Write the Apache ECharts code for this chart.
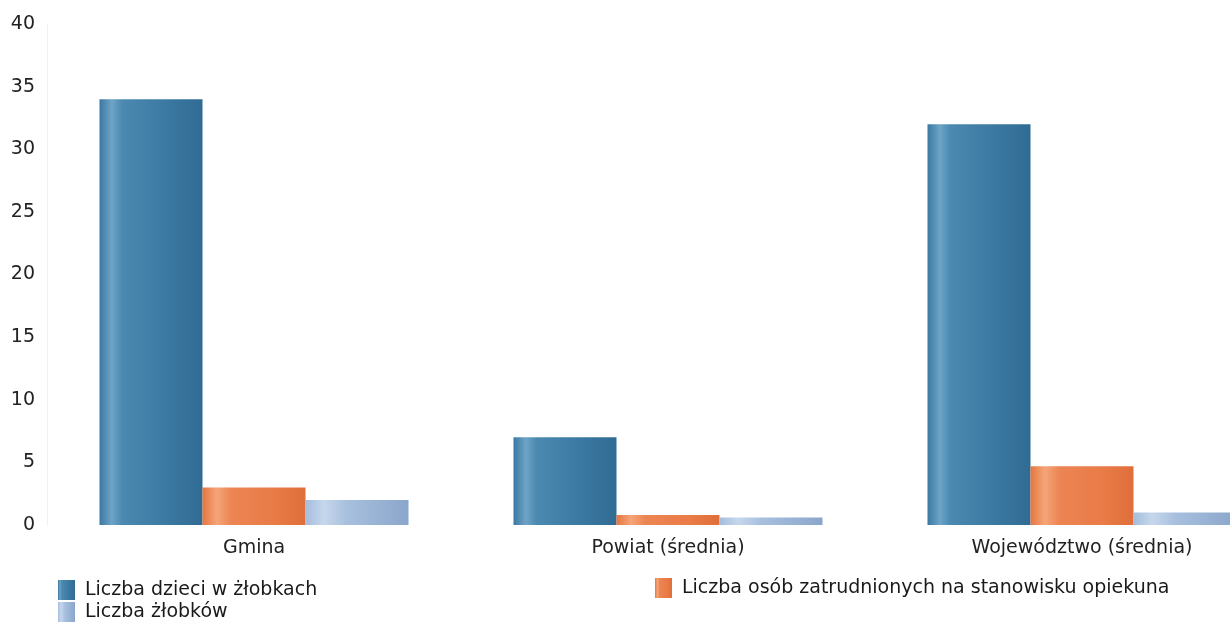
<!DOCTYPE html>
<html>
<head>
<meta charset="utf-8">
<script src="https://cdn.jsdelivr.net/npm/echarts@6/dist/echarts.min.js"></script>
<style>html,body{margin:0;padding:0;background:#fff;overflow:hidden;}#c{width:1290px;height:625px;}</style>
</head>
<body>
<div id="c"></div>
<script>
const categories = ['Gmina', 'Powiat (średnia)', 'Województwo (średnia)'];
const seriesNames = ['Liczba dzieci w żłobkach', 'Liczba osób zatrudnionych na stanowisku opiekuna', 'Liczba żłobków'];
const dzieci = [34, 7, 32];
const opiekunowie = [3, 0.8, 4.7];
const zlobki = [2, 0.6, 1];
const yTicks = [0, 5, 10, 15, 20, 25, 30, 35, 40];

function grad(stops) {
  return new echarts.graphic.LinearGradient(0, 0, 1, 0, stops.map(s => ({offset: s[0], color: s[1]})));
}
const blue = grad([[0, '#3a78a2'], [0.12, '#6ea4c6'], [0.22, '#4b89b1'], [0.6, '#3d7ba4'], [1, '#306b93']]);
const orange = grad([[0, '#e5763f'], [0.14, '#f5a57a'], [0.28, '#ec8553'], [0.7, '#e97b47'], [1, '#df6e3a']]);
const light = grad([[0, '#a4bddc'], [0.18, '#c6d7ec'], [0.4, '#a8c0de'], [1, '#8aa6cb']]);

const font = 'DejaVu Sans';
const chart = echarts.init(document.getElementById('c'));
chart.setOption({
  backgroundColor: '#fff',
  animation: false,
  textStyle: {fontFamily: font},
  grid: {left: 47, right: 1, top: 24, bottom: 100, containLabel: false},
  legend: [
    {data: [seriesNames[0], seriesNames[2]], orient: 'vertical', left: 58, top: 580, padding: 0, height: 44,
     itemWidth: 17, itemHeight: 20, itemGap: 2, icon: 'rect',
     textStyle: {fontSize: 19, color: '#1a1a1a', fontFamily: font, padding: [0, 0, 0, 5]}},
    {data: [seriesNames[1]], orient: 'vertical', left: 655, top: 578, padding: 0,
     itemWidth: 17, itemHeight: 20, itemGap: 2, icon: 'rect',
     textStyle: {fontSize: 19, color: '#1a1a1a', fontFamily: font, padding: [0, 0, 0, 5]}}
  ],
  xAxis: {
    type: 'category', data: categories,
    axisLine: {show: false}, axisTick: {show: false},
    axisLabel: {fontSize: 19, color: '#222', margin: 14, fontFamily: font}
  },
  yAxis: {
    type: 'value', min: 0, max: 40, interval: 5,
    axisLine: {show: true, lineStyle: {color: '#f0f0f0'}},
    axisTick: {show: false},
    splitLine: {show: false},
    axisLabel: {fontSize: 19, color: '#222', margin: 12, fontFamily: font,
      formatter: v => yTicks.includes(v) ? String(v) : ''}
  },
  series: [
    {name: seriesNames[0], type: 'bar', data: dzieci, barWidth: 103, barGap: '0%', itemStyle: {color: blue}},
    {name: seriesNames[1], type: 'bar', data: opiekunowie, barWidth: 103, barGap: '0%', itemStyle: {color: orange}},
    {name: seriesNames[2], type: 'bar', data: zlobki, barWidth: 103, barGap: '0%', itemStyle: {color: light}}
  ]
});
</script>
</body>
</html>
